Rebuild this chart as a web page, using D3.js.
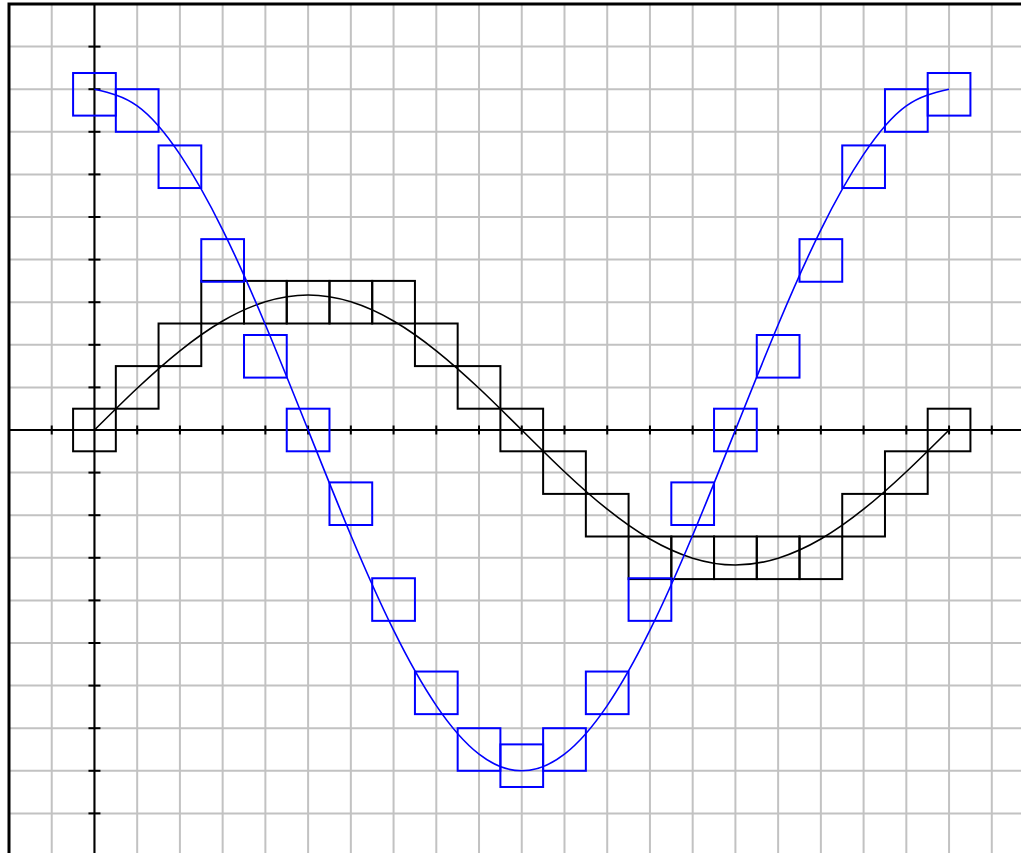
<!DOCTYPE html>
<html>
<head>
<meta charset="utf-8">
<script src="https://cdn.jsdelivr.net/npm/d3@7"></script>
<style>
  html, body { margin: 0; padding: 0; background: #fff; overflow: hidden; }
  svg { display: block; }
</style>
</head>
<body>
<svg id="chart" width="1021" height="853"></svg>
<script>
// ---- data ----
const xs = [0, 1, 2, 3, 4, 5, 6, 7, 8, 9, 10, 11, 12, 13, 14, 15, 16, 17, 18, 19, 20];
const blackCurve = [0, 0.98, 1.86, 2.56, 3.01, 3.17, 3.01, 2.56, 1.86, 0.98, 0,
                    -0.98, -1.86, -2.56, -3.01, -3.17, -3.01, -2.56, -1.86, -0.98, 0];
const blueCurve = [8, 7.61, 6.47, 4.70, 2.47, 0, -2.47, -4.70, -6.47, -7.61, -8,
                   -7.61, -6.47, -4.70, -2.47, 0, 2.47, 4.70, 6.47, 7.61, 8];
const blackSquares = [0, 1, 2, 3, 3, 3, 3, 3, 2, 1, 0, -1, -2, -3, -3, -3, -3, -3, -2, -1, 0];
const blueSquares = [7.88, 7.5, 6.18, 3.98, 1.73, 0, -1.73, -3.98, -6.17, -7.5, -7.88,
                     -7.5, -6.17, -3.98, -1.73, 0, 1.73, 3.98, 6.18, 7.5, 7.88];
const gridX = [-2, -1, 0, 1, 2, 3, 4, 5, 6, 7, 8, 9, 10, 11, 12, 13, 14, 15, 16, 17, 18, 19, 20, 21, 22];
const gridY = [10, 9, 8, 7, 6, 5, 4, 3, 2, 1, 0, -1, -2, -3, -4, -5, -6, -7, -8, -9, -10];
const xTicks = gridX.filter(d => d !== 0);
const yTicks = gridY.filter(d => d !== 0);

// ---- layout ----
const svg = d3.select("#chart");
const cellW = 42.73, cellH = 42.6;
const padLeft = 9, padTop = 4;
const x = d3.scaleLinear().domain([-2, 22]).range([padLeft, padLeft + 24 * cellW]);
const y = d3.scaleLinear().domain([10, -10]).range([padTop, padTop + 20 * cellH]);

// grid
const grid = svg.append("g").attr("stroke", "#c2c2c2").attr("stroke-width", 2);
grid.selectAll("line.v").data(gridX).join("line").attr("class", "v")
  .attr("x1", d => x(d)).attr("x2", d => x(d))
  .attr("y1", y(10)).attr("y2", y(-10));
grid.selectAll("line.h").data(gridY).join("line").attr("class", "h")
  .attr("y1", d => y(d)).attr("y2", d => y(d))
  .attr("x1", x(-2)).attr("x2", x(22));

// border
svg.append("rect")
  .attr("x", x(-2)).attr("y", y(10))
  .attr("width", x(22) - x(-2)).attr("height", y(-10) - y(10))
  .attr("fill", "none").attr("stroke", "#000").attr("stroke-width", 3);

// axes
const axes = svg.append("g").attr("stroke", "#000").attr("stroke-width", 2);
axes.append("line").attr("x1", x(-2)).attr("x2", x(22)).attr("y1", y(0)).attr("y2", y(0));
axes.append("line").attr("x1", x(0)).attr("x2", x(0)).attr("y1", y(10)).attr("y2", y(-10));
axes.selectAll("line.xt").data(xTicks).join("line").attr("class", "xt")
  .attr("x1", d => x(d)).attr("x2", d => x(d))
  .attr("y1", y(0) - 4.5).attr("y2", y(0) + 4.5);
axes.selectAll("line.yt").data(yTicks).join("line").attr("class", "yt")
  .attr("y1", d => y(d)).attr("y2", d => y(d))
  .attr("x1", x(0) - 6).attr("x2", x(0) + 6);

// squares
function squares(vals, color) {
  svg.append("g").selectAll("rect").data(xs).join("rect")
    .attr("x", d => x(d - 0.5))
    .attr("y", (d, i) => y(vals[i] + 0.5))
    .attr("width", x(0.5) - x(-0.5))
    .attr("height", y(-0.5) - y(0.5))
    .attr("fill", "none")
    .attr("stroke", color)
    .attr("stroke-width", 2);
}
squares(blackSquares, "#000");
squares(blueSquares, "#0000ff");

// curves
function curve(vals, color) {
  const line = d3.line().x(d => x(d)).y((d, i) => y(vals[i])).curve(d3.curveNatural);
  svg.append("path").datum(xs).attr("d", line)
    .attr("fill", "none").attr("stroke", color).attr("stroke-width", 1.6);
}
curve(blackCurve, "#000");
curve(blueCurve, "#0000ff");
</script>
</body>
</html>
